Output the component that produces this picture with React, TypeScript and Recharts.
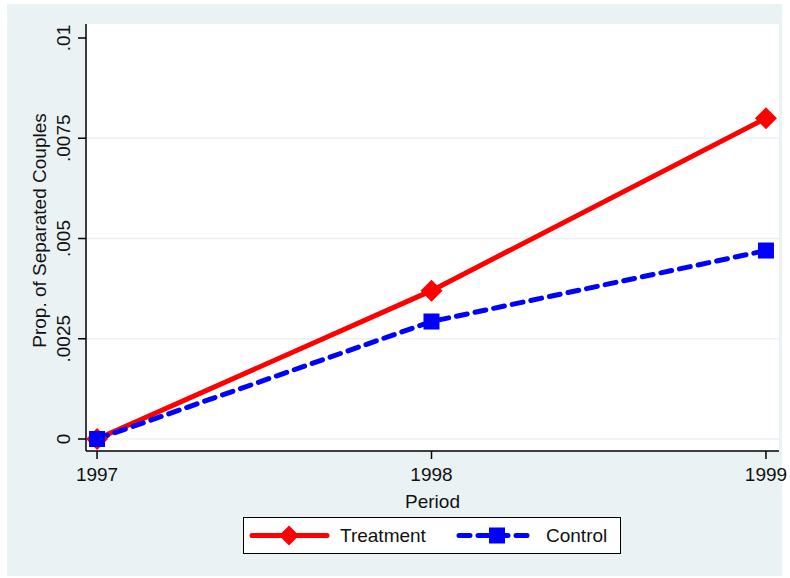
import React from "react";
import { LineChart, Line, XAxis, YAxis, CartesianGrid, Legend } from "recharts";

const years = [1997, 1998, 1999];
const treatment = [0, 0.0037, 0.008];
const control = [0, 0.00293, 0.0047];
const yTicks = [0, 0.0025, 0.005, 0.0075, 0.01];
const yTickLabels = ["0", ".0025", ".005", ".0075", ".01"];
const gridValues = [0, 0.0025, 0.005, 0.0075];
const seriesNames = ["Treatment", "Control"];
const xTitle = "Period";
const yTitle = "Prop. of Separated Couples";

const data = years.map((y, i) => ({ year: y, treatment: treatment[i], control: control[i] }));

const FONT = "'Liberation Sans', Arial, Helvetica, sans-serif";
const BG = "#EAF2F3";
const RED = "#FF0000";
const BLUE = "#0000FF";
const TXT = "#111111";

const Diamond = (props: any) => {
  const { cx, cy, index, r = 11 } = props;
  if (cx == null || cy == null) return <g key={`dm-${index}`} />;
  return (
    <path
      key={`dm-${index}`}
      d={`M${cx},${cy - r} L${cx + r},${cy} L${cx},${cy + r} L${cx - r},${cy} Z`}
      fill={RED}
      stroke="none"
    />
  );
};

const Square = (props: any) => {
  const { cx, cy, index, s = 16 } = props;
  if (cx == null || cy == null) return <g key={`sq-${index}`} />;
  return <rect key={`sq-${index}`} x={cx - s / 2} y={cy - s / 2} width={s} height={s} fill={BLUE} />;
};

const YTick = (props: any) => {
  const { x, y, payload } = props;
  const idx = yTicks.indexOf(payload.value);
  const label = idx >= 0 ? yTickLabels[idx] : String(payload.value);
  return (
    <text
      x={x}
      y={y}
      transform={`rotate(-90, ${x}, ${y})`}
      textAnchor="middle"
      fontSize={19}
      fontFamily={FONT}
      fill={TXT}
    >
      {label}
    </text>
  );
};

const YTitle = (props: any) => {
  const vb = props.viewBox || { x: 0, y: 24, width: 86, height: 427 };
  const x = vb.x + 46;
  const y = vb.y + vb.height / 2 - 7;
  return (
    <text
      x={x}
      y={y}
      transform={`rotate(-90, ${x}, ${y})`}
      textAnchor="middle"
      fontSize={19}
      fontFamily={FONT}
      fill={TXT}
    >
      {yTitle}
    </text>
  );
};

const renderLegend = () => (
  <div
    style={{
      boxSizing: "border-box",
      width: 378,
      height: 37,
      background: "#fff",
      border: "1.5px solid #000",
      position: "relative",
    }}
  >
    <svg width={378} height={37} style={{ position: "absolute", left: -1.5, top: -1.5 }}>
      <line x1={9} y1={18.5} x2={84} y2={18.5} stroke={RED} strokeWidth={5} strokeLinecap="round" />
      <Diamond cx={46} cy={18.5} r={10} index={0} />
      <text x={97} y={25} fontSize={19} fontFamily={FONT} fill={TXT}>
        {seriesNames[0]}
      </text>
      <line
        x1={216}
        y1={18.5}
        x2={291}
        y2={18.5}
        stroke={BLUE}
        strokeWidth={5}
        strokeLinecap="round"
        strokeDasharray="11 8"
      />
      <Square cx={254} cy={18.5} s={16} index={1} />
      <text x={303} y={25} fontSize={19} fontFamily={FONT} fill={TXT}>
        {seriesNames[1]}
      </text>
    </svg>
  </div>
);

export default function App() {
  return (
    <div style={{ position: "absolute", left: 0, top: 0, width: 790, height: 578 }}>
      <div style={{ position: "absolute", left: 7, top: 4, width: 775, height: 572, background: BG }} />
      <div style={{ position: "absolute", left: 0, top: 0 }}>
        <LineChart
          width={790}
          height={578}
          data={data}
          margin={{ top: 24, right: 11, left: 0, bottom: 67 }}
        >
          <CartesianGrid
            vertical={false}
            horizontalValues={gridValues}
            stroke={BG}
            strokeWidth={1.5}
            fill="#ffffff"
            fillOpacity={1}
          />
          <XAxis
            dataKey="year"
            type="number"
            domain={[1996.967, 1999.039]}
            ticks={years}
            allowDataOverflow
            height={60}
            tickSize={8}
            tickMargin={9}
            axisLine={{ stroke: "#000", strokeWidth: 1.5 }}
            tickLine={{ stroke: "#000", strokeWidth: 1.5 }}
            tick={{ fill: TXT, fontSize: 19, fontFamily: FONT }}
            label={{
              value: xTitle,
              position: "insideBottom",
              offset: 3,
              fill: TXT,
              fontSize: 19,
              fontFamily: FONT,
            }}
          />
          <YAxis
            type="number"
            domain={[-0.000299, 0.010349]}
            ticks={yTicks}
            allowDataOverflow
            width={86}
            tickSize={8}
            tickMargin={8}
            axisLine={{ stroke: "#000", strokeWidth: 1.5 }}
            tickLine={{ stroke: "#000", strokeWidth: 1.5 }}
            tick={<YTick />}
            label={<YTitle />}
          />
          <Legend
            layout="horizontal"
            verticalAlign="middle"
            align="center"
            wrapperStyle={{ position: "absolute", left: 243, top: 517, width: 378, height: 37 }}
            content={renderLegend}
          />
          <Line
            type="linear"
            dataKey="treatment"
            name={seriesNames[0]}
            stroke={RED}
            strokeWidth={5}
            dot={(p: any) => <Diamond {...p} key={`t-${p.index}`} r={11} />}
            activeDot={false}
            isAnimationActive={false}
          />
          <Line
            type="linear"
            dataKey="control"
            name={seriesNames[1]}
            stroke={BLUE}
            strokeWidth={5}
            strokeDasharray="11 8"
            strokeLinecap="round"
            dot={(p: any) => <Square {...p} key={`c-${p.index}`} s={16} />}
            activeDot={false}
            isAnimationActive={false}
          />
        </LineChart>
      </div>
    </div>
  );
}
